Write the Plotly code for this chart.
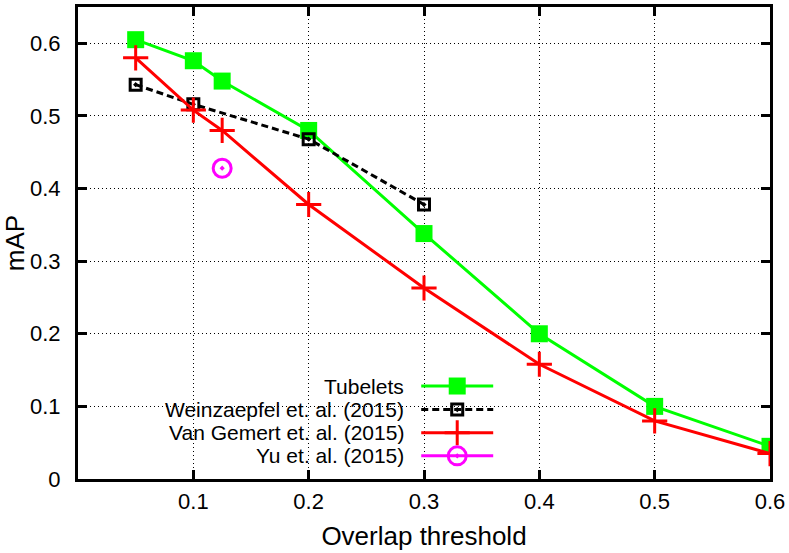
import plotly.graph_objects as go

# données
tube_x = [0.05, 0.1, 0.125, 0.2, 0.3, 0.4, 0.5, 0.6]
tube_y = [0.605, 0.576, 0.548, 0.480, 0.338, 0.200, 0.100, 0.045]

weinz_x = [0.05, 0.1, 0.2, 0.3]
weinz_y = [0.543, 0.516, 0.468, 0.378]

gemert_x = [0.05, 0.1, 0.125, 0.2, 0.3, 0.4, 0.5, 0.6]
gemert_y = [0.580, 0.508, 0.480, 0.378, 0.263, 0.158, 0.080, 0.035]

yu_x = [0.125]
yu_y = [0.428]

x_ticks = [0.1, 0.2, 0.3, 0.4, 0.5, 0.6]
y_ticks = [0, 0.1, 0.2, 0.3, 0.4, 0.5, 0.6]

names = ['Tubelets', 'Weinzaepfel et. al. (2015)',
         'Van Gemert et. al. (2015)', 'Yu et. al. (2015)']

FONT = 'Liberation Sans, Arial, sans-serif'

styles = [
    dict(line=dict(color='#00ff00', width=3),
         marker=dict(symbol='square', size=17, color='#00ff00')),
    dict(line=dict(color='black', width=3, dash='7px,4px'),
         marker=dict(symbol='square-open-dot', size=11, color='black',
                     line=dict(color='black', width=3))),
    dict(line=dict(color='#ff0000', width=3),
         marker=dict(symbol='cross-thin', size=18, color='#ff0000',
                     line=dict(color='#ff0000', width=3))),
    dict(line=dict(color='#ff00ff', width=3),
         marker=dict(symbol='circle-open-dot', size=18, color='#ff00ff',
                     line=dict(color='#ff00ff', width=3))),
]

fig = go.Figure()

series = [(tube_x, tube_y), (weinz_x, weinz_y), (gemert_x, gemert_y), (yu_x, yu_y)]
for (xs, ys), st, nm in zip(series, styles, names):
    mode = 'markers' if len(xs) == 1 else 'lines+markers'
    fig.add_trace(go.Scatter(x=xs, y=ys, mode=mode, name=nm,
                             showlegend=False, **st))

# légende façon gnuplot (texte à gauche, échantillon à droite)
leg_text_x = 0.4725
leg_x0, leg_x1 = 0.496, 0.600
leg_xm = (leg_x0 + leg_x1) / 2
leg_rows = [0.197, 0.147, 0.098, 0.049]

for st, nm, ry in zip(styles, names, leg_rows):
    fig.add_trace(go.Scatter(x=[leg_x0, leg_x1], y=[ry, ry], mode='lines',
                             line=st['line'], xaxis='x2', yaxis='y2',
                             showlegend=False, hoverinfo='skip'))
    fig.add_trace(go.Scatter(x=[leg_xm], y=[ry], mode='markers',
                             marker=st['marker'], xaxis='x2', yaxis='y2',
                             showlegend=False, hoverinfo='skip'))
    fig.add_annotation(x=leg_text_x, y=ry, xref='paper', yref='paper',
                       text=nm, showarrow=False, xanchor='right',
                       yanchor='middle', borderpad=0,
                       font=dict(size=21, color='black', family=FONT))

# fond blanc de la légende (cache la grille)
fig.add_shape(type='rect', xref='paper', yref='paper',
              x0=0.09, x1=0.614, y0=0.0, y1=0.217,
              fillcolor='white', line=dict(width=0), layer='between')

axis_common = dict(
    showgrid=True, gridcolor='black', gridwidth=1, griddash='1px,3px',
    zeroline=False, showline=True, linecolor='black', linewidth=3,
    mirror='allticks', ticks='inside', ticklen=9, tickwidth=3,
    tickcolor='black', tickfont=dict(size=22),
)

fig.update_layout(
    width=789, height=553,
    margin=dict(l=78, r=19, t=4, b=74),
    paper_bgcolor='white', plot_bgcolor='white',
    font=dict(family=FONT, size=22, color='black'),
    xaxis=dict(range=[0, 0.6], tickvals=x_ticks, ticktext=[str(v) for v in x_ticks],
               ticklabelstandoff=1,
               title=dict(text='Overlap threshold', standoff=14), **axis_common),
    yaxis=dict(range=[0, 0.65], tickvals=y_ticks, ticktext=[str(v) for v in y_ticks],
               ticklabelstandoff=10,
               title=dict(text='mAP', standoff=0), **axis_common),
    xaxis2=dict(overlaying='x', range=[0, 1], visible=False, fixedrange=True),
    yaxis2=dict(overlaying='y', range=[0, 1], visible=False, fixedrange=True),
)

fig.write_html("out.html", config={'displayModeBar': False},
               post_script="document.body.style.margin='0';")
